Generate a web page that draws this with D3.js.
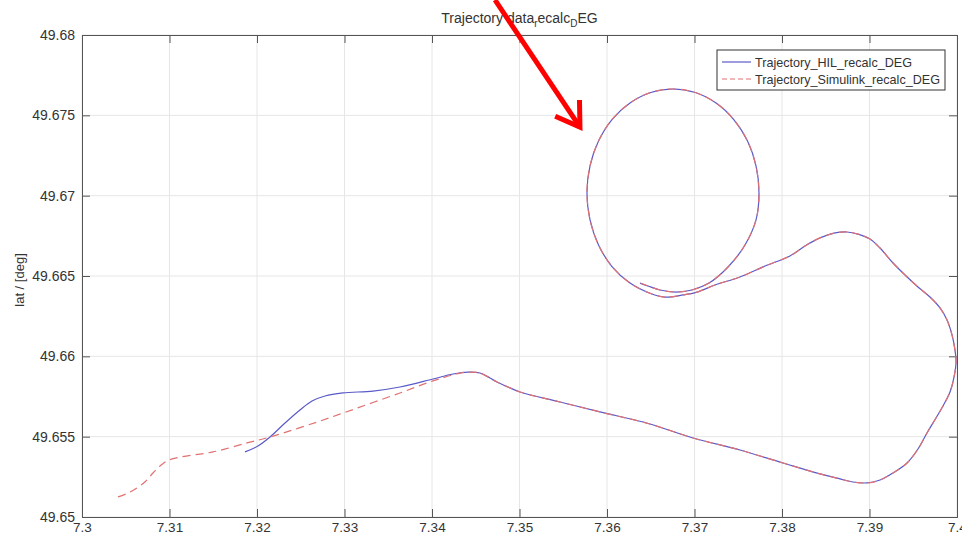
<!DOCTYPE html>
<html>
<head>
<meta charset="utf-8">
<script src="https://cdn.jsdelivr.net/npm/d3@7"></script>
<style>
  body { margin: 0; background: #fff; }
  svg { display: block; }
  text { font-family: "Liberation Sans", Arial, Helvetica, sans-serif; }
</style>
</head>
<body>
<div id="chart"></div>
<script>
// tick labels
const xTicks = [7.3, 7.31, 7.32, 7.33, 7.34, 7.35, 7.36, 7.37, 7.38, 7.39, 7.4];
const yTicks = [49.65, 49.655, 49.66, 49.665, 49.67, 49.675, 49.68];

const seriesNames = ["Trajectory_HIL_recalc_DEG", "Trajectory_Simulink_recalc_DEG"];

// start of the HIL run (lon, lat)
const hilStart = [
    [7.31863, 49.65405], [7.32011, 49.65442], [7.32149, 49.65498], [7.32320, 49.65585],
    [7.32491, 49.65666], [7.32629, 49.65722], [7.32777, 49.65753], [7.32983, 49.65772],
    [7.33326, 49.65784], [7.33634, 49.65809], [7.34011, 49.65859], [7.34240, 49.65890]
];

// start of the Simulink run
const simStart = [
    [7.30411, 49.65125], [7.30526, 49.65149], [7.30629, 49.65181], [7.30731, 49.65224],
    [7.30811, 49.65274], [7.30891, 49.65317], [7.30971, 49.65349], [7.31120, 49.65373],
    [7.31497, 49.65405], [7.31886, 49.65461], [7.32149, 49.65498], [7.32686, 49.65591],
    [7.32983, 49.65647], [7.33634, 49.65772], [7.34011, 49.65847], [7.34320, 49.65896]
];

// part both runs share: peak near 7.344, long leg, right lobe, loop
const sharedPath = [
    [7.34411, 49.65902], [7.34549, 49.65896], [7.34663, 49.65865], [7.34743, 49.65840],
    [7.34869, 49.65809], [7.35006, 49.65778], [7.35463, 49.65716], [7.35920, 49.65654],
    [7.36491, 49.65579], [7.36983, 49.65492], [7.37520, 49.65417], [7.38011, 49.65336],
    [7.38434, 49.65268], [7.38663, 49.65237], [7.38811, 49.65218], [7.38971, 49.65212],
    [7.39120, 49.65230], [7.39269, 49.65274], [7.39429, 49.65336], [7.39554, 49.65423],
    [7.39657, 49.65523], [7.39760, 49.65616], [7.39840, 49.65691], [7.39920, 49.65778],
    [7.39966, 49.65871], [7.39989, 49.65965], [7.39977, 49.66039], [7.39943, 49.66133],
    [7.39886, 49.66226], [7.39806, 49.66301], [7.39691, 49.66369], [7.39554, 49.66432],
    [7.39406, 49.66506], [7.39269, 49.66581], [7.39120, 49.66674], [7.39006, 49.66730],
    [7.38869, 49.66761], [7.38743, 49.66774], [7.38606, 49.66768], [7.38434, 49.66737],
    [7.38263, 49.66687], [7.38091, 49.66625], [7.37806, 49.66562], [7.37520, 49.66494],
    [7.37234, 49.66444], [7.37029, 49.66400], [7.36869, 49.66382], [7.36663, 49.66369],
    [7.36499, 49.66391], [7.36263, 49.66456], [7.36057, 49.66559], [7.35903, 49.66693],
    [7.35806, 49.66849], [7.35771, 49.67017], [7.35806, 49.67185], [7.35903, 49.67340],
    [7.36057, 49.67474], [7.36263, 49.67577], [7.36499, 49.67642], [7.36754, 49.67664],
    [7.37009, 49.67642], [7.37246, 49.67577], [7.37449, 49.67474], [7.37606, 49.67340],
    [7.37703, 49.67185], [7.37737, 49.67017], [7.37703, 49.66849], [7.37577, 49.66693],
    [7.37383, 49.66556], [7.37166, 49.66456], [7.36971, 49.66413], [7.36789, 49.66400],
    [7.36606, 49.66413], [7.36469, 49.66438], [7.36377, 49.66456]
];

// the red annotation arrow drawn over the figure (tail, tip)
const arrowPts = [[7.34720, 49.68218], [7.35691, 49.67427]];

const width = 962, height = 540;
const margin = { top: 35, right: 5, bottom: 23, left: 82 };
const innerWidth = width - margin.left - margin.right,
      innerHeight = height - margin.top - margin.bottom;

const xScale = d3.scaleLinear().domain([7.3, 7.4]).range([0, innerWidth]);
const yScale = d3.scaleLinear().domain([49.65, 49.68]).range([innerHeight, 0]);

const svg = d3.select("#chart").append("svg")
    .attr("width", width)
    .attr("height", height);

const g = svg.append("g")
    .attr("transform", `translate(${margin.left},${margin.top})`);

// grid
g.append("g").selectAll("line").data(xTicks).join("line")
    .attr("x1", d => xScale(d)).attr("x2", d => xScale(d))
    .attr("y1", 0).attr("y2", innerHeight)
    .attr("stroke", "#e6e6e6").attr("stroke-width", 1);
g.append("g").selectAll("line").data(yTicks).join("line")
    .attr("y1", d => yScale(d)).attr("y2", d => yScale(d))
    .attr("x1", 0).attr("x2", innerWidth)
    .attr("stroke", "#e6e6e6").attr("stroke-width", 1);

// axes, ticks inward like matlab
const tickLen = 8;
const xAxisCall = d3.axisBottom(xScale).tickValues(xTicks).tickSize(-tickLen).tickPadding(5).tickFormat(d3.format("~g"));
const yAxisCall = d3.axisLeft(yScale).tickValues(yTicks).tickSize(-tickLen).tickPadding(7).tickFormat(d3.format("~g"));

const xAxis = g.append("g").attr("class", "x axis")
    .attr("transform", `translate(0,${innerHeight})`)
    .call(xAxisCall);
const yAxis = g.append("g").attr("class", "y axis")
    .call(yAxisCall);

// top and right box sides, ticks only
const topAxis = g.append("g")
    .call(d3.axisTop(xScale).tickValues(xTicks).tickSize(-tickLen));
const rightAxis = g.append("g").attr("transform", `translate(${innerWidth},0)`)
    .call(d3.axisRight(yScale).tickValues(yTicks).tickSize(-tickLen));
topAxis.selectAll("text").remove();
rightAxis.selectAll("text").remove();

g.selectAll(".domain").attr("stroke", "#555").attr("stroke-width", 1);
g.selectAll(".tick line").attr("stroke", "#555");
xAxis.selectAll("text").attr("fill", "#333").style("font-size", "13.5px");
yAxis.selectAll("text").attr("fill", "#333").style("font-size", "14px");

// lines
const line = d3.line()
    .x(d => xScale(d[0]))
    .y(d => yScale(d[1]))
    .curve(d3.curveCatmullRom);

const hilData = hilStart.concat(sharedPath);
const simData = simStart.concat(sharedPath);

g.append("path")
    .attr("fill", "none")
    .attr("stroke", "#5a5ac8")
    .attr("stroke-width", 1.2)
    .attr("d", line(hilData));

g.append("path")
    .attr("fill", "none")
    .attr("stroke", "#e07272")
    .attr("stroke-width", 1.2)
    .attr("stroke-dasharray", "8,5")
    .attr("d", line(simData));

// title with matlab tex-style subscripts
const title = svg.append("text")
    .attr("x", margin.left + innerWidth / 2)
    .attr("y", 23)
    .attr("text-anchor", "middle")
    .attr("fill", "#333")
    .style("font-size", "14px");
title.append("tspan").text("Trajectory data");
title.append("tspan").attr("dy", 4).style("font-size", "10px").text("r");
title.append("tspan").attr("dy", -4).text("ecalc");
title.append("tspan").attr("dy", 4).style("font-size", "10px").text("D");
title.append("tspan").attr("dy", -4).text("EG");

// y label
svg.append("text")
    .attr("transform", `translate(24,${margin.top + innerHeight / 2 + 4}) rotate(-90)`)
    .attr("text-anchor", "middle")
    .attr("fill", "#333")
    .style("font-size", "13px")
    .text("lat / [deg]");

// legend
const legend = g.append("g")
    .attr("transform", `translate(${innerWidth - 240},15)`);
legend.append("rect")
    .attr("width", 228).attr("height", 40)
    .attr("fill", "#fff").attr("stroke", "#333").attr("stroke-width", 1);
const legendStyles = [
    { color: "#5a5ac8", dash: null },
    { color: "#e07272", dash: "5,3" }
];
seriesNames.forEach(function(name, i) {
    let row = legend.append("g")
        .attr("transform", `translate(0,${12 + i * 17})`);
    row.append("line")
        .attr("x1", 5).attr("x2", 34)
        .attr("stroke", legendStyles[i].color)
        .attr("stroke-width", 1.2)
        .attr("stroke-dasharray", legendStyles[i].dash);
    row.append("text")
        .attr("x", 38).attr("y", 4.5)
        .attr("fill", "#333")
        .style("font-size", "12.6px")
        .text(name);
});

// red arrow annotation
const a0 = [xScale(arrowPts[0][0]) + margin.left, yScale(arrowPts[0][1]) + margin.top];
const a1 = [xScale(arrowPts[1][0]) + margin.left, yScale(arrowPts[1][1]) + margin.top];
const ang = Math.atan2(a1[1] - a0[1], a1[0] - a0[0]);
const headLen = 27, headAng = Math.PI / 5.5;
const arrow = svg.append("g")
    .attr("stroke", "#ff0000")
    .attr("stroke-width", 5)
    .attr("fill", "none");
arrow.append("line")
    .attr("x1", a0[0]).attr("y1", a0[1])
    .attr("x2", a1[0]).attr("y2", a1[1]);
arrow.append("path")
    .attr("stroke-linejoin", "miter")
    .attr("d", d3.line()([
        [a1[0] - headLen * Math.cos(ang - headAng), a1[1] - headLen * Math.sin(ang - headAng)],
        a1,
        [a1[0] - headLen * Math.cos(ang + headAng), a1[1] - headLen * Math.sin(ang + headAng)]
    ]));
</script>
</body>
</html>
